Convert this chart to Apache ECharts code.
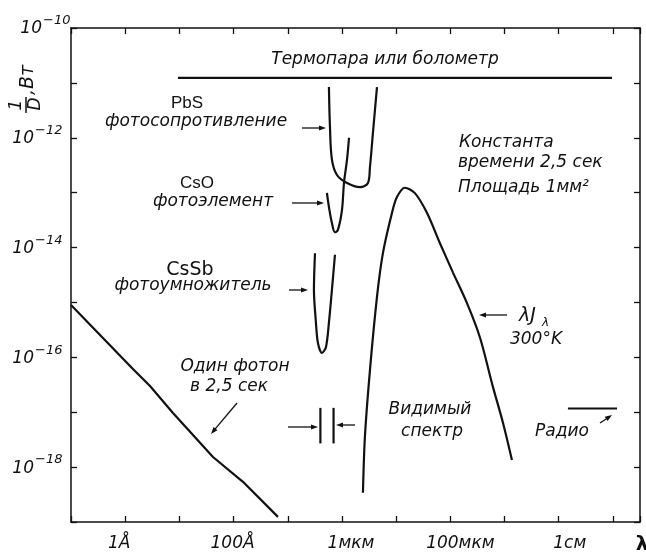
<!DOCTYPE html>
<html>
<head>
<meta charset="utf-8">
<script src="https://cdn.jsdelivr.net/npm/echarts@6/dist/echarts.min.js"></script>
<style>
  html, body { margin: 0; padding: 0; background: #fff; }
  #chart { width: 646px; height: 554px; }
</style>
</head>
<body>
<div id="chart"></div>
<script>
// Wavelength (m) on x, 1/D (W) on y, both logarithmic.
const xTickValues = [1e-10, 1e-8, 1e-6, 1e-4, 1e-2];
const xTickLabels = ['1Å', '100Å', '1мкм', '100мкм', '1см'];
const yTickExponents = [-10, -12, -14, -16, -18];

// Thermocouple / bolometer level
const thermopileLevel = [[9.4e-10, 1.23e-11], [9.6e-2, 1.23e-11]];

// PbS photoresistor
const pbsCurve = [
  [5.75e-7, 8.4e-12], [6.01e-7, 1.58e-12], [6.53e-7, 4.0e-13], [8.09e-7, 2.1e-13],
  [1.24e-6, 1.5e-13], [2.15e-6, 1.26e-13], [3.02e-6, 1.5e-13], [3.29e-6, 2.95e-13],
  [3.73e-6, 1.23e-12], [4.43e-6, 8.4e-12]
];

// CsO photocell
const csoCurve = [
  [5.28e-7, 9.9e-14], [5.75e-7, 5.5e-14], [6.53e-7, 2.8e-14], [7.43e-7, 1.9e-14],
  [8.43e-7, 2.1e-14], [1.0e-6, 4.8e-14], [1.09e-6, 1.5e-13], [1.24e-6, 4.0e-13],
  [1.35e-6, 1.0e-12]
];

// CsSb photomultiplier
const cssbCurve = [
  [3.18e-7, 7.9e-15], [3.04e-7, 1.7e-15], [3.31e-7, 4.3e-16], [3.61e-7, 1.8e-16],
  [4.28e-7, 1.2e-16], [5.07e-7, 1.55e-16], [5.75e-7, 4.3e-16], [6.53e-7, 1.7e-15],
  [7.43e-7, 7.4e-15]
];

// One photon per 2.5 s
const onePhotonLine = [
  [1e-11, 9.0e-16], [1.39e-10, 6.15e-17], [2.87e-10, 3.01e-17], [7.62e-10, 9.7e-18],
  [4.17e-9, 1.53e-18], [1.49e-8, 5.4e-19], [6.59e-8, 1.24e-19]
];

// lambda * J_lambda of a 300 K black body
const blackbody300K = [
  [2.44e-6, 3.4e-19], [2.65e-6, 3.5e-18], [3.29e-6, 5.9e-17], [4.43e-6, 1.26e-15],
  [5.70e-6, 7.9e-15], [8.37e-6, 4.27e-14], [1.035e-5, 8.3e-14], [1.45e-5, 1.23e-13],
  [2.22e-5, 9.8e-14], [3.70e-5, 4.3e-14], [6.43e-5, 1.2e-14], [1.12e-4, 3.5e-15],
  [2.02e-4, 9.8e-16], [3.52e-4, 2.3e-16], [6.11e-4, 2.9e-17], [9.33e-4, 6.5e-18],
  [1.37e-3, 1.35e-18]
];

// Visible band edges (m) and the height of their markers (W)
const visibleEdges = [4e-7, 7e-7];
const visibleSpan = [2.7e-18, 1.2e-17];

// Radio level
const radioLevel = [[1.48e-2, 1.17e-17], [0.119, 1.17e-17]];

const INK = '#111111';
const ITAL = '"DejaVu Sans", sans-serif';
const NARROW = '"Liberation Sans Narrow", "Liberation Sans", sans-serif';

function curve(name, data, smooth) {
  return {
    type: 'line', name: name, data: data, showSymbol: false, symbol: 'none',
    smooth: smooth, lineStyle: { color: INK, width: 2.2 }, silent: true, z: 3
  };
}

const series = [
  curve('thermo', thermopileLevel, false),
  curve('pbs', pbsCurve, 0.35),
  curve('cso', csoCurve, 0.35),
  curve('cssb', cssbCurve, 0.3),
  curve('photon', onePhotonLine, false),
  curve('bb', blackbody300K, 0.3),
  curve('radio', radioLevel, false)
];
visibleEdges.forEach(function (x, i) {
  series.push(curve('vis' + i, [[x, visibleSpan[0]], [x, visibleSpan[1]]], false));
});

// Annotation arrows and captions (pixel layout)
function arrow(x1, y1, x2, y2) {
  const a = Math.atan2(y2 - y1, x2 - x1), L = 7, W = 2.6;
  const c = Math.cos(a), s = Math.sin(a);
  return [
    { type: 'line', silent: true, shape: { x1: x1, y1: y1, x2: x2 - c * 4, y2: y2 - s * 4 }, style: { stroke: INK, lineWidth: 1.3 } },
    { type: 'polygon', silent: true, shape: { points: [[x2, y2], [x2 - L * c + W * s, y2 - L * s - W * c], [x2 - L * c - W * s, y2 - L * s + W * c]] }, style: { fill: INK } }
  ];
}
function note(text, x, y, font, align) {
  return { type: 'text', silent: true, x: x, y: y, style: { text: text, font: font, fill: INK, align: align || 'center', verticalAlign: 'middle' } };
}
const it = function (px) { return 'italic ' + px + 'px ' + ITAL; };
const nr = function (px) { return px + 'px ' + NARROW; };

const graphics = [].concat(
  note('Термопара или болометр', 385, 60, it(17)),
  note('PbS', 187, 103, nr(17)),
  note('фотосопротивление', 196, 122, it(17)),
  note('CsO', 197, 183, nr(17)),
  note('фотоэлемент', 213, 202, it(17)),
  note('CsSb', 190, 270, '19px "DejaVu Sans", sans-serif'),
  note('фотоумножитель', 193, 286, it(17)),
  note('Один фотон', 235, 367, it(17)),
  note('в 2,5 сек', 229, 387, it(17)),
  note('Константа', 459, 143, it(17), 'left'),
  note('времени 2,5 сек', 458, 163, it(17), 'left'),
  note('Площадь 1мм²', 458, 188, it(17), 'left'),
  note('λJ', 519, 316, it(19), 'left'),
  note('λ', 542, 323, it(12), 'left'),
  note('300°K', 536, 340, it(17)),
  note('Видимый', 430, 410, it(17)),
  note('спектр', 432, 432, it(17)),
  note('Радио', 562, 432, it(17)),
  note('λ', 642, 545, 'bold 20px ' + ITAL),
  arrow(302, 128, 326, 128),
  arrow(292, 203, 324, 203),
  arrow(289, 290, 308, 290),
  arrow(237, 403, 211, 434),
  arrow(288, 427, 318, 427),
  arrow(355, 425, 336, 425),
  arrow(507, 315, 479, 315),
  arrow(600, 423, 612, 415),
  // axis title: 1/D, Вт (reads upward)
  [{
    type: 'group', x: 26, y: 82, rotation: Math.PI / 2, silent: true,
    children: [
      { type: 'text', x: -23, y: -9, style: { text: '1', font: it(17), fill: INK, align: 'center', verticalAlign: 'middle' } },
      { type: 'line', shape: { x1: -31, y1: 0, x2: -15, y2: 0 }, style: { stroke: INK, lineWidth: 1.5 } },
      { type: 'text', x: -22, y: 10, style: { text: 'D', font: it(17), fill: INK, align: 'center', verticalAlign: 'middle' } },
      { type: 'text', x: -13, y: 2, style: { text: ',Вт', font: it(19), fill: INK, align: 'left', verticalAlign: 'middle' } }
    ]
  }]
);

const axisLineStyle = { color: INK, width: 1.5 };
const tickStyle = { show: true, inside: true, length: 6, lineStyle: { color: INK, width: 1.3 } };
const xRange = { type: 'log', logBase: 10, min: 1e-11, max: Math.pow(10, -0.5), interval: 1, splitNumber: 10 };
const yRange = { type: 'log', logBase: 10, min: 1e-19, max: 1e-10, interval: 1, splitNumber: 9 };

function frameAxis(base, position) {
  return Object.assign({}, base, {
    position: position,
    axisLine: { lineStyle: axisLineStyle },
    axisTick: tickStyle,
    splitLine: { show: false },
    minorTick: { show: false },
    axisLabel: { show: false }
  });
}

const chart = echarts.init(document.getElementById('chart'), null, { renderer: 'canvas' });
chart.setOption({
  backgroundColor: '#ffffff',
  animation: false,
  grid: { left: 71, right: 6, top: 28, bottom: 32, containLabel: false },
  xAxis: [frameAxis(xRange, 'bottom'), frameAxis(xRange, 'top')],
  yAxis: [frameAxis(yRange, 'left'), frameAxis(yRange, 'right')],
  series: series
});

// Wavelength labels under their decade ticks; italic glyphs sit a little right of the tick.
const xLabelNudge = [-6, -1, 9, 10, 11];
const xLabels = xTickValues.map(function (v, i) {
  const px = chart.convertToPixel({ xAxisIndex: 0 }, v);
  return note(xTickLabels[i], px + xLabelNudge[i], 544, it(17));
});

// Power-of-ten labels: "10" with a raised exponent, beside each labelled decade tick.
const yLabelNudge = [8, 0, 0, 0, 0];
const yLabels = [];
yTickExponents.forEach(function (e, i) {
  const py = chart.convertToPixel({ yAxisIndex: 0 }, Math.pow(10, e));
  const x0 = 34 + yLabelNudge[i];
  yLabels.push(note('10', x0, py + 1, it(17), 'right'));
  yLabels.push(note('−' + Math.abs(e), x0 + 1, py - 7, it(13), 'left'));
});

chart.setOption({ graphic: graphics.concat(xLabels, yLabels) });
</script>
</body>
</html>
